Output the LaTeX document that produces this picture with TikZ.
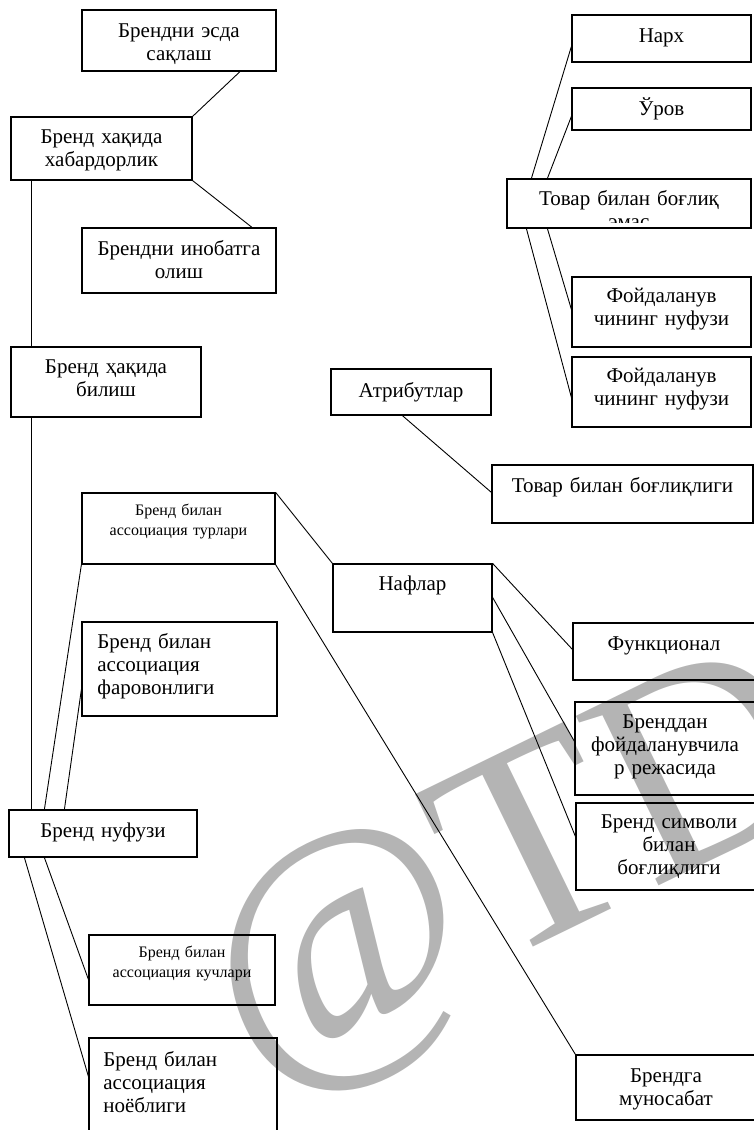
\documentclass[tikz,border=0pt]{standalone}
\usepackage{fontspec}
\setmainfont{Liberation Serif}
\usetikzlibrary{fit,calc}
\definecolor{wmgray}{RGB}{180,180,180}
\tikzset{
  box/.style={draw=black, line width=0.6pt, inner sep=0pt, rectangle},
  link/.style={draw=black, line width=0.45pt},
  txt/.style={text width=125pt, align=center, inner sep=0pt, anchor=base,
    font=\fontsize{10.5}{11.65}\selectfont},
  txts/.style={txt, font=\fontsize{8}{10}\selectfont},
  txtl/.style={text width=90pt, align=left, inner sep=0pt, anchor=base west,
    font=\fontsize{10.5}{11.65}\selectfont},
}
\begin{document}
\begin{tikzpicture}[x=0.5pt,y=-0.5pt]
\useasboundingbox (0,0) rectangle (754,1130);
\clip (0,0) rectangle (754,1130);

% watermark
\node[rotate=26, anchor=base west, inner sep=0pt, text=wmgray,
  font=\fontsize{144}{144}\selectfont] (wmark) at (255,1083) {@TD};

% left column: awareness
\node[box, fit={(82,10) (276,71)}] (esda) {};
\node[txt] (esda-t) at (179,37) {Брендни эсда\\сақлаш};
\node[box, fit={(11,117) (192,180)}] (xabar) {};
\node[txt] (xabar-t) at (101.5,143) {Бренд хақида\\хабардорлик};
\node[box, fit={(82,228) (276,293)}] (inobat) {};
\node[txt] (inobat-t) at (179,255) {Брендни инобатга\\олиш};
\node[box, fit={(11,347) (201,417)}] (bilish) {};
\node[txt] (bilish-t) at (106,373) {Бренд ҳақида\\билиш};

% left column: image
\node[box, fit={(82,493) (275,564)}] (turlari) {};
\node[txts] (turlari-t) at (178.5,515) {Бренд билан\\ассоциация турлари};
\node[box, fit={(82,622) (277,716)}] (farov) {};
\node[txtl] (farov-t) at (97,648) {Бренд билан\\ассоциация\\фаровонлиги};
\node[box, fit={(9,810) (197,857)}] (nufuz) {};
\node[txt] (nufuz-t) at (103,837) {Бренд нуфузи};
\node[box, fit={(89,935) (275,1005)}] (kuch) {};
\node[txts] (kuch-t) at (182,957) {Бренд билан\\ассоциация кучлари};
\node[box, fit={(89,1038) (277,1145)}] (noyob) {};
\node[txtl] (noyob-t) at (103,1066) {Бренд билан\\ассоциация\\ноёблиги};

% right column: attributes
\node[box, fit={(572,15) (751,62)}] (narx) {};
\node[txt] (narx-t) at (661.5,42) {Нарх};
\node[box, fit={(572,88) (751,130)}] (urov) {};
\node[txt] (urov-t) at (661.5,115) {Ўров};
\node[box, fit={(507,179) (751,228)}] (tovar1) {};
\begin{scope}
  \clip (507,179) rectangle (751,222);
  \node[txt] (tovar1-t) at (629,205) {Товар билан боғлиқ\\эмас};
\end{scope}
\node[box, fit={(572,277) (751,347)}] (foyd1) {};
\node[txt] (foyd1-t) at (661.5,302) {Фойдаланув\\чининг нуфузи};
\node[box, fit={(572,357) (751,427)}] (foyd2) {};
\node[txt] (foyd2-t) at (661.5,382) {Фойдаланув\\чининг нуфузи};
\node[box, fit={(331,369) (491,415)}] (atrib) {};
\node[txt] (atrib-t) at (411,397) {Атрибутлар};
\node[box, fit={(492,465) (753,523)}] (tovar2) {};
\node[txt] (tovar2-t) at (622.5,492) {Товар билан боғлиқлиги};

% benefits
\node[box, fit={(333,564) (492,632)}] (nafl) {};
\node[txt] (nafl-t) at (412.5,590) {Нафлар};
\node[box, fit={(573,623) (760,680)}] (funk) {};
\node[txt] (funk-t) at (664,650) {Функционал};
\node[box, fit={(575,702) (760,795)}] (brend) {};
\node[txt] (brend-t) at (665,728) {Бренддан\\фойдаланувчила\\р режасида};
\node[box, fit={(576,803) (762,890)}] (simv) {};
\node[txt] (simv-t) at (669,828) {Бренд символи\\билан\\боғлиқлиги};
\node[box, fit={(576,1055) (760,1120)}] (munos) {};
\node[txt] (munos-t) at (666,1082) {Брендга\\муносабат};

% connectors
\draw[link] ($(esda.south)+(61,0)$) -- (xabar.north east);
\draw[link] (xabar.south east) -- ($(inobat.north)+(73,0)$);
\draw[link] ($(xabar.south west)+(21,0)$) -- ($(bilish.north west)+(21,0)$);
\draw[link] ($(bilish.south west)+(21,0)$) -- ($(nufuz.north west)+(23,0)$);
\draw[link] (turlari.south west) -- ($(nufuz.north west)+(36,0)$);
\draw[link] ($(farov.north west)+(0,68)$) -- ($(nufuz.north west)+(56,0)$);
\draw[link] (turlari.north east) -- (nafl.north west);
\draw[link] (turlari.south east) -- (munos.north west);
\draw[link] ($(nufuz.south west)+(16,0)$) -- ($(noyob.north west)+(0,39)$);
\draw[link] ($(nufuz.south west)+(36,0)$) -- ($(kuch.north west)+(0,45)$);
\draw[link] (nafl.north east) -- ($(funk.north west)+(0,27)$);
\draw[link] ($(nafl.north east)+(0,34)$) -- ($(brend.north west)+(0,40)$);
\draw[link] (nafl.south east) -- ($(simv.north west)+(0,34)$);
\draw[link] ($(atrib.south west)+(72,0)$) -- ($(tovar2.north west)+(0,28)$);
\draw[link] ($(narx.north west)+(0,32)$) -- ($(tovar1.north west)+(25,0)$);
\draw[link] ($(urov.north west)+(0,29)$) -- ($(tovar1.north west)+(41,0)$);
\draw[link] ($(tovar1.south west)+(20,0)$) -- ($(foyd2.north west)+(0,41)$);
\draw[link] ($(tovar1.south west)+(41,0)$) -- ($(foyd1.north west)+(0,33)$);
\end{tikzpicture}
\end{document}
